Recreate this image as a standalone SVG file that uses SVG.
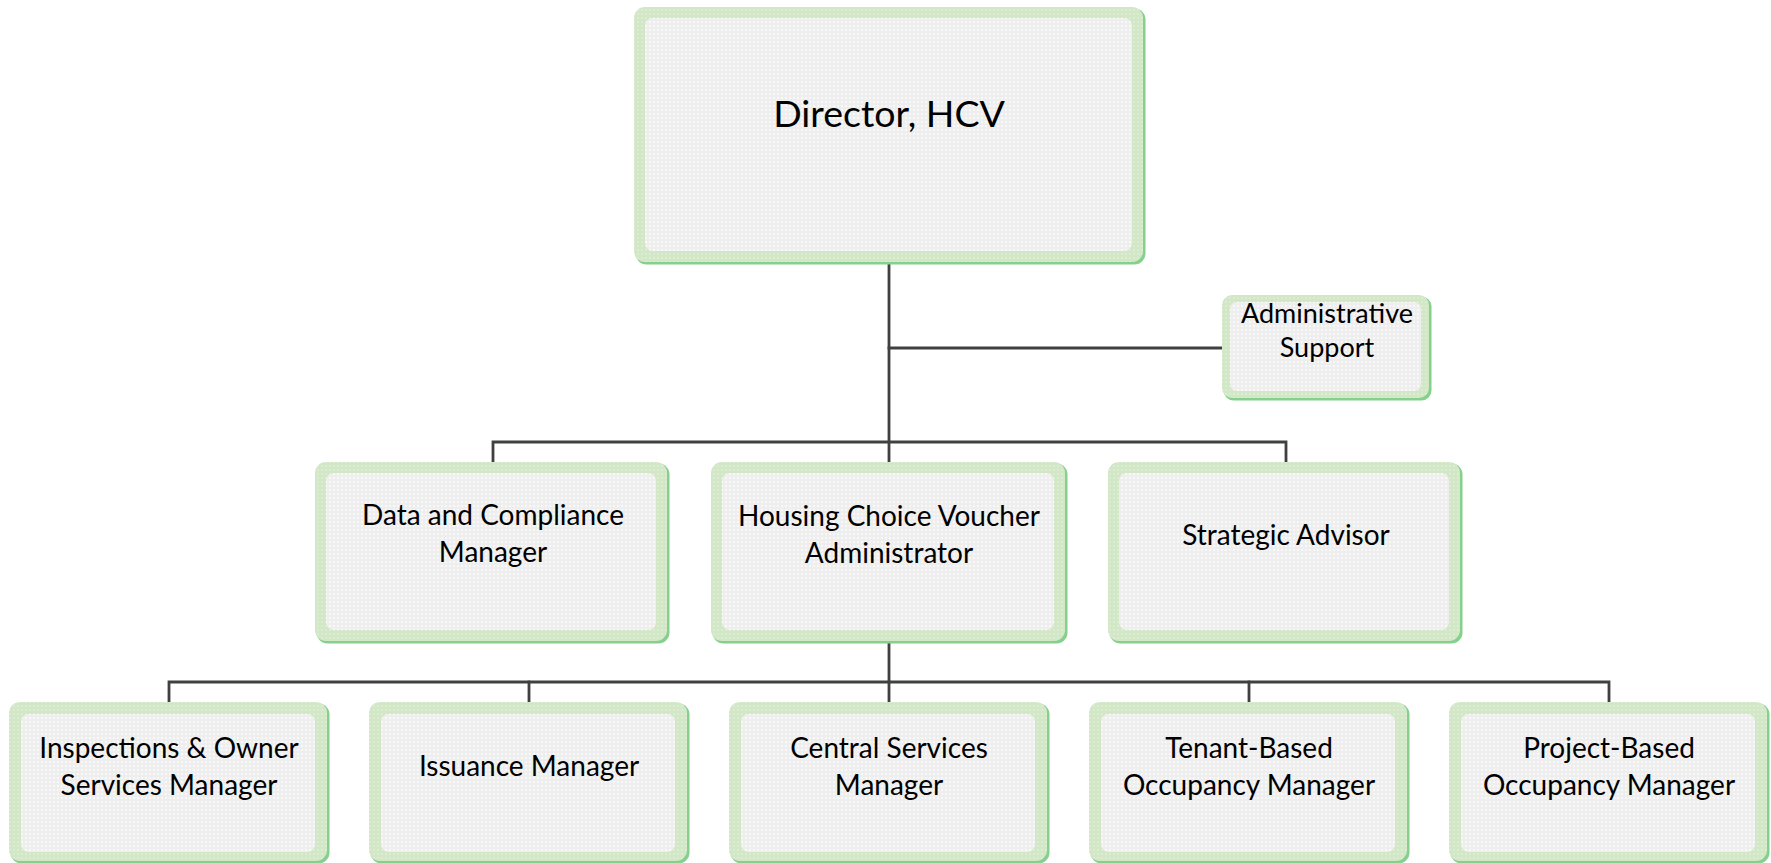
<svg xmlns="http://www.w3.org/2000/svg" width="1771" height="863" viewBox="0 0 1771 863">
<defs>
  <pattern id="dots" width="4" height="4" patternUnits="userSpaceOnUse">
    <rect width="4" height="4" fill="#eeeeee"/>
    <rect x="1" y="1" width="2" height="2" fill="#f8f8f8"/>
  </pattern>
  <pattern id="gdots" width="4" height="4" patternUnits="userSpaceOnUse">
    <rect width="4" height="4" fill="#d2e7c6"/>
    <rect x="1" y="1" width="2" height="2" fill="#dcecd2"/>
  </pattern>
  <style>
    .shadow { fill: #86d08e; }
    .outer { fill: url(#gdots); }
    .inner { fill: url(#dots); }
    .conn { stroke: #404040; stroke-width: 2.8; fill: none; stroke-linecap: square; }
    .lbl { font-family: Lato, "Liberation Sans", sans-serif; font-size: 28px; fill: #000; text-anchor: middle; }
    .big { font-size: 37.5px; }
    .sm { font-size: 27px; }
  </style>
</defs>
<rect width="1771" height="863" fill="#ffffff"/>

<g id="connectors">
  <path class="conn" d="M889 263 V462"/>
  <path class="conn" d="M889 348 H1222"/>
  <path class="conn" d="M493 462 V442 H1286 V462"/>
  <path class="conn" d="M889 643 V682"/>
  <path class="conn" d="M169 702 V682 H1609 V702"/>
  <path class="conn" d="M529 682 V702"/>
  <path class="conn" d="M889 682 V702"/>
  <path class="conn" d="M1249 682 V702"/>
</g>

<g id="director">
  <rect class="shadow" x="635.5" y="8.5" width="510" height="256" rx="11"/>
  <rect class="outer" x="634" y="7" width="509" height="255" rx="11"/>
  <rect class="inner" x="645" y="18" width="487" height="233" rx="8"/>
  <text class="lbl big" x="889" y="127">Director, HCV</text>
</g>

<g id="admin-support">
  <rect class="shadow" x="1223.5" y="296.5" width="208" height="104" rx="10"/>
  <rect class="outer" x="1222" y="295" width="207" height="103" rx="10"/>
  <rect class="inner" x="1230" y="302" width="191" height="89" rx="7"/>
  <text class="lbl sm" x="1327" y="323">Administrative</text>
  <text class="lbl sm" x="1327" y="357">Support</text>
</g>

<g id="data-compliance">
  <rect class="shadow" x="316.5" y="463.5" width="353" height="180" rx="11"/>
  <rect class="outer" x="315" y="462" width="352" height="179" rx="11"/>
  <rect class="inner" x="326" y="473" width="330" height="157" rx="8"/>
  <text class="lbl" x="493" y="525">Data and Compliance</text>
  <text class="lbl" x="493" y="562">Manager</text>
</g>

<g id="hcv-administrator">
  <rect class="shadow" x="712.5" y="463.5" width="355" height="180" rx="11"/>
  <rect class="outer" x="711" y="462" width="354" height="179" rx="11"/>
  <rect class="inner" x="722" y="473" width="332" height="157" rx="8"/>
  <text class="lbl" x="889" y="526">Housing Choice Voucher</text>
  <text class="lbl" x="889" y="563">Administrator</text>
</g>

<g id="strategic-advisor">
  <rect class="shadow" x="1109.5" y="463.5" width="353" height="180" rx="11"/>
  <rect class="outer" x="1108" y="462" width="352" height="179" rx="11"/>
  <rect class="inner" x="1119" y="473" width="330" height="157" rx="8"/>
  <text class="lbl" x="1286" y="545">Strategic Advisor</text>
</g>

<g id="inspections-owner">
  <rect class="shadow" x="10.5" y="703.5" width="319" height="160" rx="11"/>
  <rect class="outer" x="9" y="702" width="318" height="159" rx="11"/>
  <rect class="inner" x="21" y="714" width="294" height="138" rx="8"/>
  <text class="lbl" x="169" y="758">Inspections &amp; Owner</text>
  <text class="lbl" x="169" y="795">Services Manager</text>
</g>

<g id="issuance">
  <rect class="shadow" x="370.5" y="703.5" width="319" height="160" rx="11"/>
  <rect class="outer" x="369" y="702" width="318" height="159" rx="11"/>
  <rect class="inner" x="381" y="714" width="294" height="138" rx="8"/>
  <text class="lbl" x="529" y="776">Issuance Manager</text>
</g>

<g id="central-services">
  <rect class="shadow" x="730.5" y="703.5" width="319" height="160" rx="11"/>
  <rect class="outer" x="729" y="702" width="318" height="159" rx="11"/>
  <rect class="inner" x="741" y="714" width="294" height="138" rx="8"/>
  <text class="lbl" x="889" y="758">Central Services</text>
  <text class="lbl" x="889" y="795">Manager</text>
</g>

<g id="tenant-based">
  <rect class="shadow" x="1090.5" y="703.5" width="319" height="160" rx="11"/>
  <rect class="outer" x="1089" y="702" width="318" height="159" rx="11"/>
  <rect class="inner" x="1101" y="714" width="294" height="138" rx="8"/>
  <text class="lbl" x="1249" y="758">Tenant-Based</text>
  <text class="lbl" x="1249" y="795">Occupancy Manager</text>
</g>

<g id="project-based">
  <rect class="shadow" x="1450.5" y="703.5" width="319" height="160" rx="11"/>
  <rect class="outer" x="1449" y="702" width="318" height="159" rx="11"/>
  <rect class="inner" x="1461" y="714" width="294" height="138" rx="8"/>
  <text class="lbl" x="1609" y="758">Project-Based</text>
  <text class="lbl" x="1609" y="795">Occupancy Manager</text>
</g>
</svg>
